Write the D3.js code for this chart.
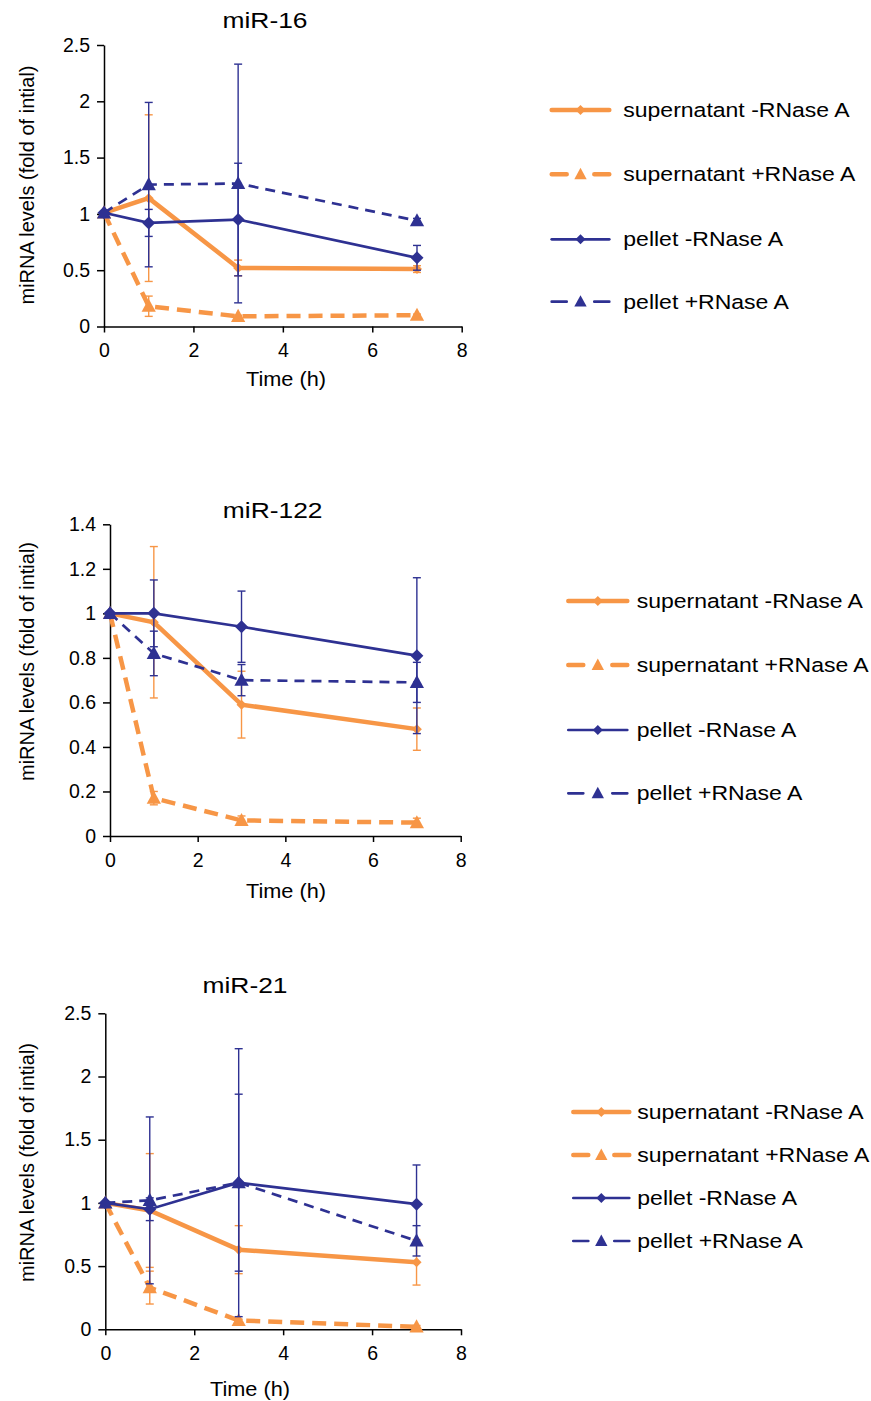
<!DOCTYPE html>
<html>
<head>
<meta charset="utf-8">
<script src="https://cdn.jsdelivr.net/npm/d3@7"></script>
<style>
  body { margin: 0; background: #fff; }
  svg { display: block; font-family: "Liberation Sans", Arial, sans-serif; }
</style>
</head>
<body>
<svg id="chart" width="871" height="1401"></svg>
<script>
const times = [0, 1, 3, 7];
const xTicks = [0, 2, 4, 6, 8];
const seriesNames = ["supernatant -RNase A", "supernatant +RNase A", "pellet -RNase A", "pellet +RNase A"];
const yLabel = "miRNA levels (fold of intial)";

// miR-16
const mir16YTicks = [0, 0.5, 1, 1.5, 2, 2.5];
const mir16SupMinus = [1.01, 1.14, 0.52, 0.51];
const mir16SupMinusErr = [0, 0.74, 0.07, 0.03];
const mir16SupPlus = [1.01, 0.18, 0.09, 0.10];
const mir16SupPlusErr = [0, 0.09, 0.01, 0.01];
const mir16PelMinus = [1.01, 0.92, 0.95, 0.61];
const mir16PelMinusErr = [0, 0.12, 0.50, 0.11];
const mir16PelPlus = [1.01, 1.26, 1.27, 0.94];
const mir16PelPlusErr = [0, 0.73, 1.06, 0.02];

// miR-122
const mir122YTicks = [0, 0.2, 0.4, 0.6, 0.8, 1, 1.2, 1.4];
const mir122SupMinus = [1.0, 0.96, 0.59, 0.48];
const mir122SupMinusErr = [0, 0.34, 0.15, 0.095];
const mir122SupPlus = [1.0, 0.17, 0.07, 0.06];
const mir122SupPlusErr = [0, 0.03, 0.02, 0.02];
const mir122PelMinus = [1.0, 1.0, 0.94, 0.81];
const mir122PelMinusErr = [0, 0.15, 0.16, 0.35];
const mir122PelPlus = [1.0, 0.82, 0.70, 0.69];
const mir122PelPlusErr = [0, 0.10, 0.07, 0.09];

// miR-21
const mir21YTicks = [0, 0.5, 1, 1.5, 2, 2.5];
const mir21SupMinus = [1.0, 0.94, 0.63, 0.53];
const mir21SupMinusErr = [0, 0.45, 0.19, 0.18];
const mir21SupPlus = [1.0, 0.33, 0.07, 0.02];
const mir21SupPlusErr = [0, 0.13, 0.01, 0.01];
const mir21PelMinus = [1.0, 0.95, 1.16, 0.99];
const mir21PelMinusErr = [0, 0.09, 1.06, 0.31];
const mir21PelPlus = [1.0, 1.02, 1.16, 0.70];
const mir21PelPlusErr = [0, 0.66, 0.70, 0.12];

const orange = "#F79646";
const blue = "#2E3192";

const styles = [
    { color: orange, width: 4.5, dash: null, marker: "diamond", r: 5 },
    { color: orange, width: 4.5, dash: "14,8", marker: "triangle", r: 7.5 },
    { color: blue, width: 2.7, dash: null, marker: "diamond", r: 6.5 },
    { color: blue, width: 2.7, dash: "10,7", marker: "triangle", r: 7.5 },
];

const panels = [
    {
        title: "miR-16", yTicks: mir16YTicks,
        values: [mir16SupMinus, mir16SupPlus, mir16PelMinus, mir16PelPlus],
        errors: [mir16SupMinusErr, mir16SupPlusErr, mir16PelMinusErr, mir16PelPlusErr],
        left: 104, right: 461.7, top: 45, bottom: 326.5,
        titleX: 265, titleY: 28, xLabX: 286, xLabY: 386, yLabY: 185,
        legX: 551.7, legW: 57.6, legTextX: 623.3, legRows: [110, 174.3, 239.3, 301.7]
    },
    {
        title: "miR-122", yTicks: mir122YTicks,
        values: [mir122SupMinus, mir122SupPlus, mir122PelMinus, mir122PelPlus],
        errors: [mir122SupMinusErr, mir122SupPlusErr, mir122PelMinusErr, mir122PelPlusErr],
        left: 110, right: 460.7, top: 524.3, bottom: 836,
        titleX: 272.7, titleY: 518, xLabX: 286, xLabY: 898, yLabY: 661.5,
        legX: 568.3, legW: 59, legTextX: 636.7, legRows: [601, 665, 730, 793.3]
    },
    {
        title: "miR-21", yTicks: mir21YTicks,
        values: [mir21SupMinus, mir21SupPlus, mir21PelMinus, mir21PelPlus],
        errors: [mir21SupMinusErr, mir21SupPlusErr, mir21PelMinusErr, mir21PelPlusErr],
        left: 105.3, right: 461, top: 1013.3, bottom: 1329.3,
        titleX: 245, titleY: 993, xLabX: 250, xLabY: 1396, yLabY: 1162.5,
        legX: 573.3, legW: 56, legTextX: 637.3, legRows: [1112, 1155, 1198, 1241]
    }
];

const svg = d3.select("#chart");

function markerPath(type, r) {
    if (type === "diamond") {
        return `M0,${-r}L${r},0L0,${r}L${-r},0Z`;
    }
    return `M0,${-r}L${r * 0.95},${r * 0.75}L${-r * 0.95},${r * 0.75}Z`;
}

function stretchedText(g, x, y, txt, size, sx, anchor) {
    return g.append("text")
        .attr("transform", `translate(${x},${y}) scale(${sx},1)`)
        .attr("font-size", size)
        .attr("text-anchor", anchor)
        .attr("fill", "#000")
        .text(txt);
}

panels.forEach((p) => {
    const g = svg.append("g");
    const yMax = p.yTicks[p.yTicks.length - 1];

    const x = d3.scaleLinear().domain([0, 8]).range([p.left, p.right]);
    const y = d3.scaleLinear().domain([0, yMax]).range([p.bottom, p.top]);

    // axes
    const xAxis = g.append("g")
        .attr("transform", `translate(0,${p.bottom})`)
        .call(d3.axisBottom(x).tickValues(xTicks).tickSize(6).tickPadding(11).tickSizeOuter(0));
    const yAxis = g.append("g")
        .attr("transform", `translate(${p.left},0)`)
        .call(d3.axisLeft(y).tickValues(p.yTicks).tickFormat((d) => d).tickSize(7).tickPadding(7).tickSizeOuter(0));

    [xAxis, yAxis].forEach((a) => {
        a.selectAll("path, line").attr("stroke", "#000").attr("stroke-width", 1.5);
        a.selectAll("text").attr("font-size", 19.5).attr("fill", "#000")
            .style("font-family", "'Liberation Sans', Arial, sans-serif");
    });

    stretchedText(g, p.titleX, p.titleY, p.title, 22, 1.2, "middle");
    stretchedText(g, p.xLabX, p.xLabY, "Time (h)", 20.5, 1.06, "middle");
    g.append("text")
        .attr("transform", `translate(33.5,${p.yLabY}) rotate(-90)`)
        .attr("font-size", 20)
        .attr("text-anchor", "middle")
        .attr("fill", "#000")
        .text(yLabel);

    const line = d3.line()
        .x((d, i) => x(times[i]))
        .y((d) => y(d));

    p.values.forEach((vals, s) => {
        const st = styles[s];
        const errs = p.errors[s];
        const sg = g.append("g");

        // error bars
        vals.forEach((v, i) => {
            if (!errs[i]) return;
            const cx = x(times[i]);
            const y1 = y(v + errs[i]);
            const y2 = y(v - errs[i]);
            sg.append("line").attr("x1", cx).attr("x2", cx).attr("y1", y1).attr("y2", y2)
                .attr("stroke", st.color).attr("stroke-width", 1.4);
            [y1, y2].forEach((cy) => {
                sg.append("line").attr("x1", cx - 4).attr("x2", cx + 4).attr("y1", cy).attr("y2", cy)
                    .attr("stroke", st.color).attr("stroke-width", 1.4);
            });
        });

        sg.append("path")
            .datum(vals)
            .attr("d", line)
            .attr("fill", "none")
            .attr("stroke", st.color)
            .attr("stroke-width", st.width)
            .attr("stroke-dasharray", st.dash);

        sg.selectAll(".m")
            .data(vals)
            .enter()
            .append("path")
            .attr("d", markerPath(st.marker, st.r))
            .attr("transform", (d, i) => `translate(${x(times[i])},${y(d)})`)
            .attr("fill", st.color);
    });

    // legend
    seriesNames.forEach((name, s) => {
        const st = styles[s];
        const ly = p.legRows[s];
        const mx = p.legX + p.legW / 2;
        const lg = g.append("g");
        const seg = 15;
        lg.append("line")
            .attr("x1", p.legX).attr("x2", p.legX + p.legW)
            .attr("y1", ly).attr("y2", ly)
            .attr("stroke", st.color)
            .attr("stroke-width", st.width)
            .attr("stroke-linecap", "round")
            .attr("stroke-dasharray", st.dash ? `${seg},${p.legW - 2 * seg}` : null);
        lg.append("path")
            .attr("d", markerPath(st.marker, st.marker === "diamond" ? 5 : 6.5))
            .attr("transform", `translate(${mx},${ly})`)
            .attr("fill", st.color);
        stretchedText(lg, p.legTextX, ly + 7, name, 19.5, 1.18, "start");
    });
});
</script>
</body>
</html>
